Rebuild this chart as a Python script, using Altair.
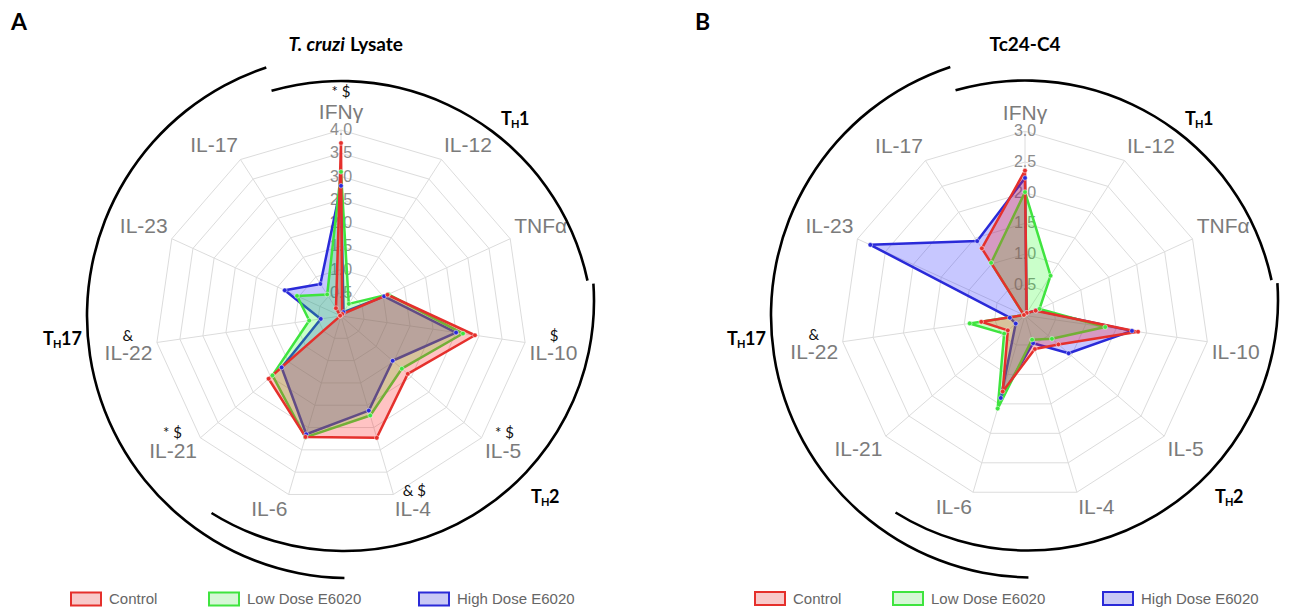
import math
import altair as alt
import pandas as pd

# ---------------- data ----------------
cytokines = ["IFNγ", "IL-12", "TNFα", "IL-10", "IL-5", "IL-4",
             "IL-6", "IL-21", "IL-22", "IL-23", "IL-17"]
series = ["Control", "Low Dose E6020", "High Dose E6020"]

a_control = [3.72, 0.05, 1.10, 2.91, 1.90, 2.73, 2.71, 2.06, 0.02, 0.02, 0.20]
a_low = [3.10, 0.31, 1.12, 2.65, 1.73, 2.23, 2.72, 1.95, 0.69, 1.04, 0.55]
a_high = [2.80, 0.10, 1.02, 2.50, 1.47, 2.12, 2.65, 1.69, 0.44, 1.33, 0.82]

b_control = [2.36, 0.05, 0.19, 1.86, 0.72, 0.57, 1.29, 0.37, 0.72, 0.02, 1.30]
b_low = [2.01, 0.77, 0.26, 1.32, 0.58, 0.41, 1.58, 0.45, 0.91, 0.02, 1.02]
b_high = [2.24, 0.05, 0.20, 1.76, 0.94, 0.47, 1.40, 0.20, 0.25, 2.77, 1.44]

a_sig = ["* $", "", "", "$", "* $", "& $", "", "* $", "&", "", ""]
b_sig = ["", "", "", "", "", "", "", "", "&", "", ""]

a_ticks = [0.5, 1.0, 1.5, 2.0, 2.5, 3.0, 3.5, 4.0]
b_ticks = [0.5, 1.0, 1.5, 2.0, 2.5, 3.0]

a_title = ["T. cruzi", "Lysate"]
b_title = ["Tc24-C4"]
th_groups = ["1", "2", "17"]

N = len(cytokines)
H = 597

LINE = {"Control": "#e5302c", "Low Dose E6020": "#3fe43f", "High Dose E6020": "#2a2ad8"}
FILL = {"Control": "#ff2020", "Low Dose E6020": "#20ff20", "High Dose E6020": "#2020ff"}
FOP = {"Control": 0.27, "Low Dose E6020": 0.24, "High Dose E6020": 0.25}
BOXFILL = {"Control": "#f8caca", "Low Dose E6020": "#d6f7d6", "High Dose E6020": "#c9c9f5"}
DRAW_ORDER = ["High Dose E6020", "Low Dose E6020", "Control"]

LABEL_FONT = "Liberation Sans"
BOLD_FONT = "Lato"

# bracket arcs relative to the radar centre: (dx, dy, r, start deg, end deg)
ARCS = [(0, 17, 252, 344, 438), (3, -15, 250, 86, 212), (8, 0, 262, 181, 341.6)]
# T_H label positions relative to radar centre
TH_POS = [(174, -196), (204, 182), (-279, 24)]
LEG_DX = [-255, -117, 93]
LEG_DY = 283


def build_panel(letter, title, values, sig, ticks, width, cx, cy, k):
    rmax = max(ticks)
    xs = alt.Scale(domain=[-cx / k, (width - cx) / k], nice=False, zero=False)
    ys = alt.Scale(domain=[-(H - cy) / k, cy / k], nice=False, zero=False)

    def X(f):
        return alt.X(f"{f}:Q", scale=xs, axis=None)

    def Y(f):
        return alt.Y(f"{f}:Q", scale=ys, axis=None)

    TH = f"datum.idx * 2 * PI / {N}"
    layers = []

    # grid rings
    ring_rows = [{"t": t, "j": j, "idx": j % N} for t in ticks for j in range(N + 1)]
    layers.append(
        alt.Chart(pd.DataFrame(ring_rows))
        .transform_calculate(x=f"datum.t * sin({TH})", y=f"datum.t * cos({TH})")
        .mark_line(color="#dcdcdc", strokeWidth=1)
        .encode(x=X("x"), y=Y("y"), detail="t:N", order="j:Q")
    )
    # spokes
    layers.append(
        alt.Chart(pd.DataFrame({"idx": list(range(N))}))
        .transform_calculate(x0="0", y0="0",
                             x1=f"{rmax} * sin({TH})", y1=f"{rmax} * cos({TH})")
        .mark_rule(color="#dcdcdc", strokeWidth=1)
        .encode(x=X("x0"), y=Y("y0"), x2="x1:Q", y2="y1:Q")
    )
    # radial tick labels
    tick_df = pd.DataFrame({"t": ticks, "lab": [f"{t:.1f}" for t in ticks]})
    layers.append(
        alt.Chart(tick_df)
        .transform_calculate(x0="0")
        .mark_text(font=LABEL_FONT, fontSize=16, color="#8c8c8c", align="center", baseline="middle")
        .encode(x=X("x0"), y=Y("t"), text="lab:N")
    )

    # series polygons
    rows = []
    for s, vals in zip(series, values):
        for i in range(N + 1):
            rows.append({"series": s, "i": i, "idx": i % N, "value": vals[i % N]})
    sdf = pd.DataFrame(rows)
    base = alt.Chart(sdf).transform_calculate(
        x=f"datum.value * sin({TH})", y=f"datum.value * cos({TH})"
    )
    for s in DRAW_ORDER:
        layers.append(
            base.transform_filter(alt.datum.series == s)
            .mark_line(fill=FILL[s], fillOpacity=FOP[s], stroke=LINE[s],
                       strokeWidth=2.5, strokeJoin="round")
            .encode(x=X("x"), y=Y("y"), order="i:Q")
        )
    for s in DRAW_ORDER:
        layers.append(
            base.transform_filter((alt.datum.series == s) & (alt.datum.i < N))
            .mark_point(shape="circle", filled=True, size=22, fill=LINE[s],
                        stroke="#ffffff", strokeWidth=0.8, strokeOpacity=0.6, opacity=1)
            .encode(x=X("x"), y=Y("y"))
        )

    # category labels + significance marks
    ldf = pd.DataFrame({"idx": list(range(N)), "label": cytokines, "sig": sig})
    groups = [
        ("abs(datum.sx) <= 0.1 && datum.cs > 0", "center", "bottom", 0.0, 31, 7.5),
        ("datum.sx > 0.1 && datum.cs > 0", "left", "bottom", 0.5, 31, 4.5),
        ("datum.sx > 0.1 && datum.cs <= 0", "left", "top", 0.5, 7.5, 4.5),
        ("datum.sx < -0.1 && datum.cs <= 0", "right", "top", -0.5, 7.5, 4.5),
        ("datum.sx < -0.1 && datum.cs > 0", "right", "bottom", -0.5, 31, 4.5),
    ]
    for expr, al, bl, f, dy, offpx in groups:
        off = offpx / k
        g = alt.Chart(ldf).transform_calculate(
            th=TH, sx="sin(datum.th)", cs="cos(datum.th)",
            ax=f"datum.sx * {rmax + off}", ay=f"datum.cs * {rmax + off}"
        ).transform_filter(expr)
        layers.append(
            g.mark_text(font=LABEL_FONT, fontSize=21, color="#7b7b7b", align=al, baseline=bl)
            .encode(x=X("ax"), y=Y("ay"), text="label:N")
        )
        layers.append(
            g.transform_filter("datum.sig != ''")
            .transform_calculate(
                mx=f"datum.ax + {f} * length(datum.label) * 9.8 / {k}",
                my=f"datum.ay + {dy / k}",
            )
            .mark_text(font=BOLD_FONT, fontSize=15, color="#111111", align="center", baseline="middle")
            .encode(x=X("mx"), y=Y("my"), text="sig:N")
        )

    one = pd.DataFrame({"n": [0]})
    # bracket arcs
    for dx, dy, r, a0, a1 in ARCS:
        layers.append(
            alt.Chart(one).mark_arc(color="#000000")
            .encode(x=alt.value(cx + dx), y=alt.value(cy + dy),
                    theta=alt.value(a0 * math.pi / 180), theta2=alt.value(a1 * math.pi / 180),
                    radius=alt.value(r - 1.3), radius2=alt.value(r + 1.3))
        )
    # T_H labels
    for grp, (dx, dy) in zip(th_groups, TH_POS):
        w = 10 + 8 + 10 * len(grp)
        x0 = cx + dx - w / 2
        y0 = cy + dy
        layers.append(alt.Chart(pd.DataFrame({"t": ["T"]}))
                      .mark_text(font=BOLD_FONT, fontWeight="bold", fontSize=18, align="left", baseline="middle", color="#000")
                      .encode(x=alt.value(x0), y=alt.value(y0), text="t:N"))
        layers.append(alt.Chart(pd.DataFrame({"t": ["H"]}))
                      .mark_text(font=BOLD_FONT, fontWeight="bold", fontSize=11, align="left", baseline="middle", color="#000")
                      .encode(x=alt.value(x0 + 10), y=alt.value(y0 + 5), text="t:N"))
        layers.append(alt.Chart(pd.DataFrame({"t": [grp]}))
                      .mark_text(font=BOLD_FONT, fontWeight="bold", fontSize=18, align="left", baseline="middle", color="#000")
                      .encode(x=alt.value(x0 + 18), y=alt.value(y0), text="t:N"))

    # title
    ty = 37
    if len(title) == 2:
        layers.append(alt.Chart(pd.DataFrame({"t": [title[0]]}))
                      .mark_text(font=BOLD_FONT, fontWeight="bold", fontStyle="italic", fontSize=19,
                                 align="right", baseline="middle", color="#000")
                      .encode(x=alt.value(cx + 4), y=alt.value(ty), text="t:N"))
        layers.append(alt.Chart(pd.DataFrame({"t": [title[1]]}))
                      .mark_text(font=BOLD_FONT, fontWeight="bold", fontSize=19,
                                 align="left", baseline="middle", color="#000")
                      .encode(x=alt.value(cx + 9), y=alt.value(ty), text="t:N"))
    else:
        layers.append(alt.Chart(pd.DataFrame({"t": title}))
                      .mark_text(font=BOLD_FONT, fontWeight="bold", fontSize=19,
                                 align="center", baseline="middle", color="#000")
                      .encode(x=alt.value(cx), y=alt.value(ty), text="t:N"))
    # panel letter
    layers.append(alt.Chart(pd.DataFrame({"t": [letter]}))
                  .mark_text(font=BOLD_FONT, fontWeight="bold", fontSize=23, align="left",
                             baseline="middle", color="#000")
                  .encode(x=alt.value(cx - 333 + 3), y=alt.value(15), text="t:N"))

    # legend
    ly = cy + LEG_DY
    for s, dx in zip(series, LEG_DX):
        bx = cx + dx
        layers.append(alt.Chart(pd.DataFrame({"t": [s]}))
                      .mark_rect(fill=BOXFILL[s], stroke=LINE[s], strokeWidth=2)
                      .encode(x=alt.value(bx - 15), x2=alt.value(bx + 15),
                              y=alt.value(ly - 6.5), y2=alt.value(ly + 6.5)))
        layers.append(alt.Chart(pd.DataFrame({"t": [s]}))
                      .mark_text(font=LABEL_FONT, fontSize=15, color="#666666", align="left", baseline="middle")
                      .encode(x=alt.value(bx + 23), y=alt.value(ly), text="t:N"))

    return alt.layer(*layers).properties(width=width, height=H)


panel_a = build_panel("A", a_title, [a_control, a_low, a_high], a_sig, a_ticks, 637, 333, 308, 46.5)
panel_b = build_panel("B", b_title, [b_control, b_low, b_high], b_sig, b_ticks, 638, 380, 307.5, 61.4)

chart = (
    alt.hconcat(panel_a, panel_b, spacing=0)
    .properties(padding=0)
    .configure_view(stroke=None)
)
chart.save("out.html", embed_options={"renderer": "svg", "actions": False})
